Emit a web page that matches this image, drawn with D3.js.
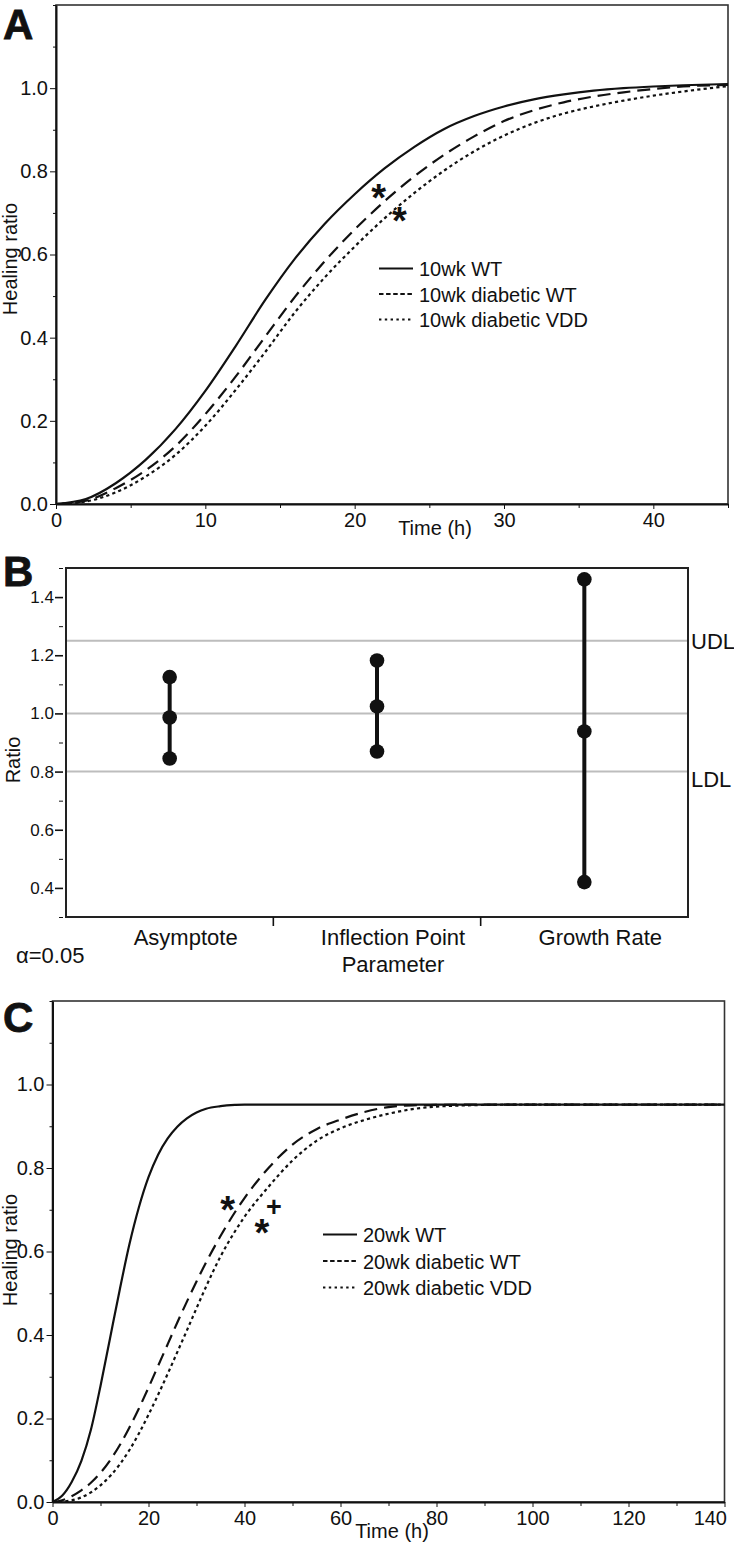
<!DOCTYPE html>
<html>
<head>
<meta charset="utf-8">
<script src="https://cdn.jsdelivr.net/npm/d3@7"></script>
<style>
  html, body { margin: 0; padding: 0; background: #fff; }
  svg { display: block; }
</style>
</head>
<body>
<svg id="chart" width="734" height="1545"></svg>
<script>
// ================= DATA =================
// Panel A : 10 wk
const timeA = [0, 2, 4, 6, 8, 10, 12, 14, 16, 18, 20, 22, 24, 26, 28, 30, 32, 34, 36, 38, 40, 42, 45];
const wt10      = [0, 0.012, 0.050, 0.106, 0.180, 0.272, 0.378, 0.490, 0.590, 0.674, 0.745, 0.807, 0.859, 0.902, 0.933, 0.956, 0.973, 0.985, 0.994, 1.000, 1.004, 1.007, 1.010];
const diabWt10  = [0, 0.008, 0.038, 0.081, 0.139, 0.216, 0.305, 0.402, 0.498, 0.584, 0.660, 0.728, 0.788, 0.840, 0.884, 0.921, 0.947, 0.966, 0.980, 0.990, 0.998, 1.004, 1.008];
const diabVdd10 = [0, 0.006, 0.028, 0.066, 0.118, 0.188, 0.273, 0.365, 0.461, 0.545, 0.619, 0.687, 0.748, 0.802, 0.848, 0.886, 0.916, 0.939, 0.956, 0.970, 0.982, 0.992, 1.005];
const legendA = ["10wk WT", "10wk diabetic WT", "10wk diabetic VDD"];
const marksA = [ { s: "*", t: 21.6, v: 0.755 }, { s: "*", t: 23.0, v: 0.700 } ];
const xTicksA = [0, 10, 20, 30, 40];
const xMinorA = [5, 15, 25, 35, 45];

// Panel B : ratio intervals
const paramCats = ["Asymptote", "Inflection Point\nParameter", "Growth Rate"];
const ratioLow  = [0.845, 0.869, 0.420];
const ratioMid  = [0.986, 1.024, 0.938];
const ratioHigh = [1.125, 1.182, 1.461];
const refValues = [1.25, 1.0, 0.8];
const refLabels = ["UDL", "", "LDL"];
const yTicksB = [0.4, 0.6, 0.8, 1.0, 1.2, 1.4];
const yMinorB = [0.3, 0.5, 0.7, 0.9, 1.1, 1.3, 1.5];
const alphaText = "α=0.05";

// Panel C : 20 wk
const timeC = [0, 2, 4, 6, 8, 10, 12, 14, 16, 18, 20, 22, 24, 26, 28, 30, 32, 35, 38, 40, 45, 50, 55, 60, 65, 70, 75, 80, 90, 100, 120, 140];
const wt20      = [0, 0.015, 0.048, 0.098, 0.173, 0.278, 0.393, 0.508, 0.616, 0.706, 0.778, 0.832, 0.871, 0.899, 0.919, 0.933, 0.942, 0.948, 0.951, 0.952, 0.952, 0.952, 0.952, 0.952, 0.952, 0.952, 0.952, 0.952, 0.952, 0.952, 0.952, 0.952];
const diabWt20  = [0, 0.004, 0.014, 0.028, 0.046, 0.070, 0.100, 0.136, 0.178, 0.224, 0.274, 0.326, 0.378, 0.430, 0.480, 0.528, 0.574, 0.637, 0.694, 0.728, 0.800, 0.856, 0.893, 0.916, 0.934, 0.946, 0.950, 0.951, 0.952, 0.952, 0.952, 0.952];
const diabVdd20 = [0, 0.001, 0.004, 0.011, 0.023, 0.040, 0.062, 0.090, 0.124, 0.164, 0.209, 0.257, 0.307, 0.359, 0.411, 0.464, 0.516, 0.588, 0.648, 0.683, 0.755, 0.818, 0.865, 0.895, 0.915, 0.930, 0.941, 0.947, 0.951, 0.952, 0.952, 0.952];
const legendC = ["20wk WT", "20wk diabetic WT", "20wk diabetic VDD"];
const marksC = [ { s: "*", t: 36.5, v: 0.719 }, { s: "*", t: 43.6, v: 0.663 }, { s: "+", t: 46.1, v: 0.707 } ];
const xTicksC = [0, 20, 40, 60, 80, 100, 120, 140];
const xMinorC = [10, 30, 50, 70, 90, 110, 130];

const yTicksCurve = [0, 0.2, 0.4, 0.6, 0.8, 1.0];
const yMinorCurve = [0.1, 0.3, 0.5, 0.7, 0.9, 1.1, 1.2];

// ================= DRAWING =================
const FONT = '"Liberation Sans", Arial, Helvetica, sans-serif';
const INK = "#111";
const svg = d3.select("#chart");
const fmt1 = d3.format(".1f");

const styles = [
  { curveDash: null,      legendDash: null },
  { curveDash: "13,7",    legendDash: "4.5,2.6" },
  { curveDash: "3.2,3.2", legendDash: "2.4,3.4" }
];

function styleAxis(sel, size) {
  sel.attr("font-family", FONT).attr("font-size", size).attr("color", INK);
  sel.selectAll("text").attr("fill", INK);
}

function curvePanel(cfg) {
  const g = svg.append("g");
  const x = d3.scaleLinear().domain(cfg.xDomain).range([cfg.left, cfg.right]);
  const y = d3.scaleLinear().domain([0, 1.2]).range([cfg.bottom, cfg.top]);

  const clipId = "clip" + cfg.id;
  svg.append("clipPath").attr("id", clipId).append("rect")
    .attr("x", cfg.left).attr("y", cfg.top - 2)
    .attr("width", cfg.right - cfg.left).attr("height", cfg.bottom - cfg.top + 2);

  // frame
  g.append("rect")
    .attr("x", cfg.left).attr("y", cfg.top)
    .attr("width", cfg.right - cfg.left).attr("height", cfg.bottom - cfg.top)
    .attr("fill", "none").attr("stroke", "#333").attr("stroke-width", 1.6);

  // minor y ticks
  const ym = g.append("g").attr("transform", `translate(${cfg.left},0)`)
    .call(d3.axisLeft(y).tickValues(yMinorCurve).tickSize(3).tickSizeOuter(0).tickFormat(""));
  ym.select(".domain").remove();
  styleAxis(ym, 10);
  // major y
  const ya = g.append("g").attr("transform", `translate(${cfg.left},0)`)
    .call(d3.axisLeft(y).tickValues(yTicksCurve).tickFormat(fmt1).tickSize(6).tickSizeOuter(0).tickPadding(2));
  styleAxis(ya, 20);
  ya.select(".domain").attr("stroke-width", 2);

  // minor x ticks
  const xm = g.append("g").attr("transform", `translate(0,${cfg.bottom})`)
    .call(d3.axisBottom(x).tickValues(cfg.xMinor).tickSize(4).tickSizeOuter(0).tickFormat(""));
  xm.select(".domain").remove();
  styleAxis(xm, 10);
  // major x
  const xa = g.append("g").attr("transform", `translate(0,${cfg.bottom})`)
    .call(d3.axisBottom(x).tickValues(cfg.xTicks).tickFormat(d3.format("d")).tickSize(5).tickSizeOuter(0).tickPadding(4));
  styleAxis(xa, 20);
  xa.select(".domain").attr("stroke-width", 2);
  // keep the last label inside the page
  xa.selectAll(".tick text").filter(d => x(d) > 715).attr("text-anchor", "end").attr("dx", 2);

  // curves
  const line = d3.line()
    .x((d, i) => x(cfg.time[i]))
    .y(d => y(d))
    .curve(d3.curveMonotoneX);
  cfg.series.forEach((vals, k) => {
    g.append("path")
      .attr("d", line(vals))
      .attr("clip-path", `url(#${clipId})`)
      .attr("fill", "none")
      .attr("stroke", INK)
      .attr("stroke-width", 2.2)
      .attr("stroke-dasharray", styles[k].curveDash);
  });

  // legend
  const lg = g.append("g");
  cfg.legend.forEach((name, k) => {
    const cy = cfg.legendY + k * cfg.legendStep;
    lg.append("line")
      .attr("x1", cfg.legendX).attr("x2", cfg.legendX + 34)
      .attr("y1", cy).attr("y2", cy)
      .attr("stroke", INK).attr("stroke-width", 2)
      .attr("stroke-dasharray", styles[k].legendDash);
    lg.append("text")
      .attr("x", cfg.legendX + 40).attr("y", cy + 7.5)
      .attr("font-family", FONT).attr("font-size", 20).attr("fill", INK)
      .text(name);
  });

  // significance marks
  cfg.marks.forEach(m => {
    const isStar = m.s === "*";
    g.append("text")
      .attr("x", x(m.t)).attr("y", y(m.v) + (isStar ? 21 : 9))
      .attr("text-anchor", "middle")
      .attr("font-family", FONT).attr("font-weight", "bold")
      .attr("font-size", isStar ? 38 : 27)
      .attr("fill", INK)
      .text(m.s);
  });

  // axis titles
  g.append("text")
    .attr("x", cfg.timeX).attr("y", cfg.timeY)
    .attr("text-anchor", "middle")
    .attr("font-family", FONT).attr("font-size", 20).attr("fill", INK)
    .text("Time (h)");
  g.append("text")
    .attr("transform", `translate(17,${cfg.ylabelY}) rotate(-90)`)
    .attr("text-anchor", "middle")
    .attr("font-family", FONT).attr("font-size", 20).attr("fill", INK)
    .text("Healing ratio");

  // panel letter
  g.append("text")
    .attr("x", 3).attr("y", cfg.letterY)
    .attr("font-family", FONT).attr("font-weight", "bold").attr("font-size", 42).attr("fill", INK)
    .attr("stroke", INK).attr("stroke-width", 0.8)
    .text(cfg.letter);
}

// ---- Panel A
curvePanel({
  id: "A", letter: "A", letterY: 39,
  left: 56, right: 728, top: 5, bottom: 504,
  xDomain: [0, 45], xTicks: xTicksA, xMinor: xMinorA,
  time: timeA, series: [wt10, diabWt10, diabVdd10],
  legend: legendA, legendX: 379, legendY: 268.5, legendStep: 25.5,
  marks: marksA,
  timeX: 435, timeY: 535, ylabelY: 259
});

// ---- Panel C
curvePanel({
  id: "C", letter: "C", letterY: 1032,
  left: 52.5, right: 724.5, top: 1001, bottom: 1502,
  xDomain: [0, 140], xTicks: xTicksC, xMinor: xMinorC,
  time: timeC, series: [wt20, diabWt20, diabVdd20],
  legend: legendC, legendX: 323, legendY: 1234.5, legendStep: 26.5,
  marks: marksC,
  timeX: 392, timeY: 1538, ylabelY: 1250
});

// ---- Panel B
(function () {
  const L = 66, R = 688, T = 568, B = 917;
  const g = svg.append("g");
  const xb = d3.scaleBand().domain(paramCats).range([L, R]).padding(0);
  const yb = d3.scaleLinear().domain([0.3, 1.5]).range([B, T]);
  const cx = c => xb(c) + xb.bandwidth() / 2;

  // reference lines
  refValues.forEach((v, i) => {
    g.append("line")
      .attr("x1", L).attr("x2", R).attr("y1", yb(v)).attr("y2", yb(v))
      .attr("stroke", "#bdbdbd").attr("stroke-width", 2);
    if (refLabels[i]) {
      g.append("text")
        .attr("x", R + 3).attr("y", yb(v) + (i === 0 ? 8 : 15))
        .attr("font-family", FONT).attr("font-size", 22).attr("fill", INK)
        .text(refLabels[i]);
    }
  });

  // frame
  g.append("rect")
    .attr("x", L).attr("y", T).attr("width", R - L).attr("height", B - T)
    .attr("fill", "none").attr("stroke", "#222").attr("stroke-width", 2);

  // y axis
  const ym = g.append("g").attr("transform", `translate(${L},0)`)
    .call(d3.axisLeft(yb).tickValues(yMinorB).tickSize(7).tickSizeOuter(0).tickFormat(""));
  ym.select(".domain").remove();
  ym.selectAll(".tick line").attr("x1", -3);
  styleAxis(ym, 10);
  const ya = g.append("g").attr("transform", `translate(${L},0)`)
    .call(d3.axisLeft(yb).tickValues(yTicksB).tickFormat(fmt1).tickSize(11).tickSizeOuter(0).tickPadding(1));
  ya.select(".domain").remove();
  ya.selectAll(".tick line").attr("x1", -3).attr("stroke-width", 1.6);
  styleAxis(ya, 17);

  // category dividers
  paramCats.slice(1).forEach(c => {
    g.append("line")
      .attr("x1", xb(c)).attr("x2", xb(c)).attr("y1", B).attr("y2", B + 9)
      .attr("stroke", INK).attr("stroke-width", 1.6);
  });

  // category labels
  paramCats.forEach(c => {
    c.split("\n").forEach((ln, j) => {
      g.append("text")
        .attr("x", cx(c) + 16).attr("y", 945 + j * 27)
        .attr("text-anchor", "middle")
        .attr("font-family", FONT).attr("font-size", 22).attr("fill", INK)
        .text(ln);
    });
  });

  // intervals
  paramCats.forEach((c, i) => {
    g.append("line")
      .attr("x1", cx(c)).attr("x2", cx(c))
      .attr("y1", yb(ratioLow[i])).attr("y2", yb(ratioHigh[i]))
      .attr("stroke", INK).attr("stroke-width", 4);
    [ratioLow[i], ratioMid[i], ratioHigh[i]].forEach(v => {
      g.append("circle").attr("cx", cx(c)).attr("cy", yb(v)).attr("r", 7.3).attr("fill", INK);
    });
  });

  // alpha + axis title + letter
  g.append("text").attr("x", 16).attr("y", 963)
    .attr("font-family", FONT).attr("font-size", 22).attr("fill", INK).text(alphaText);
  g.append("text")
    .attr("transform", `translate(20,760) rotate(-90)`)
    .attr("text-anchor", "middle")
    .attr("font-family", FONT).attr("font-size", 20).attr("fill", INK)
    .text("Ratio");
  g.append("text").attr("x", 3).attr("y", 586)
    .attr("font-family", FONT).attr("font-weight", "bold").attr("font-size", 42).attr("fill", INK)
    .attr("stroke", INK).attr("stroke-width", 0.8)
    .text("B");
})();
</script>
</body>
</html>
